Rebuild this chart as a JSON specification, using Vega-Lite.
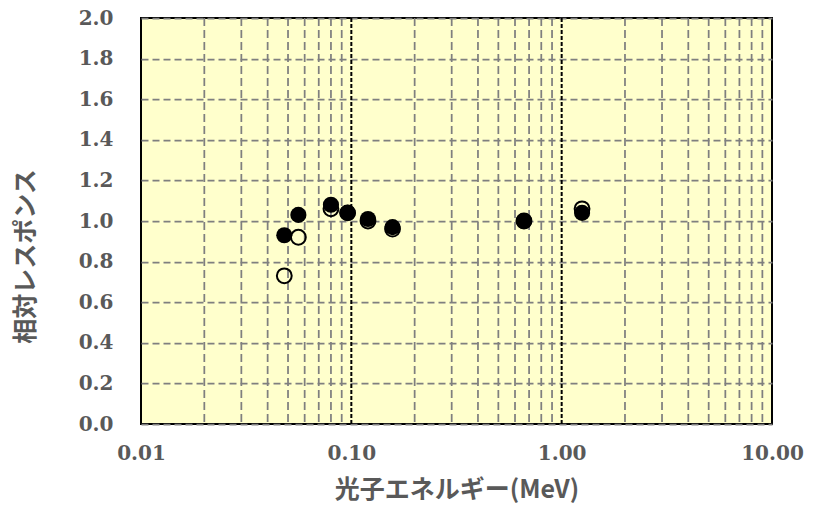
{
  "$schema": "https://vega.github.io/schema/vega-lite/v6.json",
  "width": 631,
  "height": 406,
  "autosize": "none",
  "padding": {"left": 141, "top": 18, "right": 42, "bottom": 88},
  "background": "white",
  "config": {
    "view": {"fill": "#FFFFCC", "stroke": "black", "strokeWidth": 2}
  },
  "datasets": {
    "pts": [
      {"energy": 0.048, "response": 0.93, "series": "filled"},
      {"energy": 0.056, "response": 1.03, "series": "filled"},
      {"energy": 0.080, "response": 1.08, "series": "filled"},
      {"energy": 0.096, "response": 1.04, "series": "filled"},
      {"energy": 0.120, "response": 1.01, "series": "filled"},
      {"energy": 0.157, "response": 0.97, "series": "filled"},
      {"energy": 0.662, "response": 1.00, "series": "filled"},
      {"energy": 1.25, "response": 1.04, "series": "filled"},
      {"energy": 0.048, "response": 0.73, "series": "open"},
      {"energy": 0.056, "response": 0.92, "series": "open"},
      {"energy": 0.080, "response": 1.06, "series": "open"},
      {"energy": 0.096, "response": 1.04, "series": "open"},
      {"energy": 0.120, "response": 1.00, "series": "open"},
      {"energy": 0.157, "response": 0.96, "series": "open"},
      {"energy": 0.662, "response": 1.00, "series": "open"},
      {"energy": 1.25, "response": 1.06, "series": "open"}
    ],
    "minor": [
      {"g": 0.02}, {"g": 0.03}, {"g": 0.04}, {"g": 0.05}, {"g": 0.06}, {"g": 0.07}, {"g": 0.08}, {"g": 0.09},
      {"g": 0.2}, {"g": 0.3}, {"g": 0.4}, {"g": 0.5}, {"g": 0.6}, {"g": 0.7}, {"g": 0.8}, {"g": 0.9},
      {"g": 2}, {"g": 3}, {"g": 4}, {"g": 5}, {"g": 6}, {"g": 7}, {"g": 8}, {"g": 9}
    ],
    "major": [{"g": 0.1}, {"g": 1}]
  },
  "layer": [
    {
      "data": {"name": "minor"},
      "mark": {"type": "rule", "color": "#7f7f7f", "strokeWidth": 1.75, "strokeDash": [8, 4]},
      "encoding": {
        "x": {
          "field": "g", "type": "quantitative",
          "scale": {"type": "log", "domain": [0.01, 10], "nice": false},
          "axis": {
            "values": [0.01, 0.1, 1, 10],
            "format": ".2f",
            "grid": false, "ticks": false, "domain": false,
            "labelFont": "DejaVu Serif", "labelFontSize": 20, "labelFontWeight": "bold",
            "labelColor": "#595959", "labelPadding": 19, "labelFlush": false,
            "title": "光子エネルギー(MeV)",
            "titleFont": "Noto Sans CJK JP", "titleFontSize": 25, "titleFontWeight": "bold",
            "titleColor": "#595959", "titlePadding": 14
          }
        }
      }
    },
    {
      "data": {"name": "major"},
      "mark": {"type": "rule", "color": "black", "strokeWidth": 2, "strokeDash": [4, 2]},
      "encoding": {
        "x": {"field": "g", "type": "quantitative"}
      }
    },
    {
      "data": {"name": "pts"},
      "transform": [{"filter": "datum.series === 'filled'"}],
      "mark": {"type": "point", "shape": "circle", "filled": true, "color": "black", "size": 260, "opacity": 1},
      "encoding": {
        "x": {"field": "energy", "type": "quantitative"},
        "y": {
          "field": "response", "type": "quantitative",
          "scale": {"domain": [0, 2], "nice": false},
          "axis": {
            "values": [0, 0.2, 0.4, 0.6, 0.8, 1.0, 1.2, 1.4, 1.6, 1.8, 2.0],
            "format": ".1f",
            "grid": true, "gridColor": "#7f7f7f", "gridWidth": 1.75, "gridDash": [7, 4], "gridOpacity": 1,
            "ticks": false, "domain": false,
            "labelFont": "DejaVu Serif", "labelFontSize": 20, "labelFontWeight": "bold",
            "labelColor": "#595959", "labelPadding": 28,
            "title": "相対レスポンス",
            "titleFont": "Noto Sans CJK JP", "titleFontSize": 25, "titleFontWeight": "bold",
            "titleColor": "#595959", "titleX": -116, "titleY": 238, "titleBaseline": "middle"
          }
        }
      }
    },
    {
      "data": {"name": "pts"},
      "transform": [{"filter": "datum.series === 'open'"}],
      "mark": {"type": "point", "shape": "circle", "filled": false, "stroke": "black", "strokeWidth": 2, "size": 220, "opacity": 1},
      "encoding": {
        "x": {"field": "energy", "type": "quantitative"},
        "y": {"field": "response", "type": "quantitative"}
      }
    }
  ]
}
